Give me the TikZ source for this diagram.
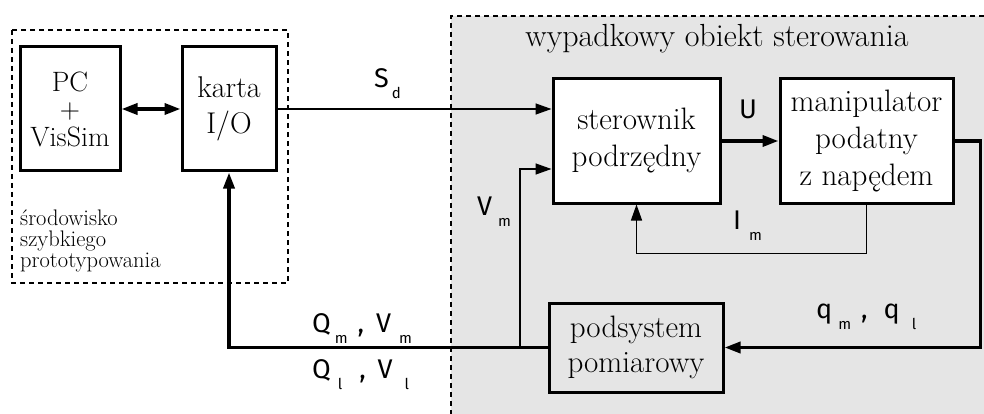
\documentclass[tikz,border=0pt]{standalone}
\usepackage{fontspec}
\newfontfamily\labfont{Fira Sans}
\usetikzlibrary{arrows.meta}
\definecolor{bggray}{HTML}{E5E5E5}
\newcommand{\sbs}[1]{\raisebox{-11pt}{\fontsize{15}{15}\selectfont #1}}
\begin{document}
\begin{tikzpicture}[x=1pt,y=-1pt,
  blk/.style={draw, line width=3pt, fill=white, align=center, inner sep=0pt,
              font=\fontsize{31}{37}\selectfont},
  heavy/.style={line width=3.5pt},
  light/.style={line width=1.4pt},
  tip/.style={-{Triangle[length=16pt,width=11pt]}},
  lab/.style={font=\labfont\fontsize{27}{27}\selectfont, inner sep=0pt, anchor=base west},
  frame/.style={dashed, dash pattern=on 5pt off 4pt, line width=1.8pt}
]
\useasboundingbox (0,0) rectangle (984,414);
% grey area
\fill[bggray] (451,16) rectangle (984,414);
\draw[frame] (984,16) -- (451,16) -- (451,414);
% left frame
\draw[frame] (12,30) rectangle (288,283);

\node[blk, minimum width=100pt, minimum height=124pt, font=\fontsize{28}{27.5}\selectfont] (pc) at (70,109) {PC\\+\\VisSim};
\node[blk, minimum width=94pt, minimum height=124pt, font=\fontsize{30}{36}\selectfont] (karta) at (229,109) {karta\\I/O};
\node[blk, minimum width=167pt, minimum height=124pt] (ster) at (636.5,141) {sterownik\\podrzędny};
\node[blk, minimum width=173pt, minimum height=124pt] (manip) at (866.5,141) {manipulator\\podatny\\z napędem};
\node[blk, fill=bggray, minimum width=174pt, minimum height=89pt, font=\fontsize{31}{35}\selectfont] (pod) at (636,347.5) {podsystem\\pomiarowy};

\node[anchor=base, font=\fontsize{32}{32}\selectfont, inner sep=0pt] (title) at (717,47) {wypadkowy obiekt sterowania};
\node[anchor=base west, align=left, inner sep=0pt, font=\fontsize{22.5}{21}\selectfont] (env) at (20,267) {środowisko\\szybkiego\\prototypowania};

% connectors
\draw[heavy, {Triangle[length=16pt,width=11pt]}-{Triangle[length=16pt,width=11pt]}] (pc.east) -- (karta.west);
\draw[light, tip] (karta.east) -- (karta.east -| ster.west);
\draw[heavy, tip] (ster.east) -- (manip.west);
\draw[heavy, tip] (manip.east) -- ++(26,0) |- (pod.east);
\draw[heavy, tip] (pod.west) -| (karta.south);
\coordinate (vm) at (520,348);
\draw[light, tip] (vm) |- ([yshift=-28pt]ster.west);
\draw[light, tip] (manip.south) -- ++(0,49) -| (ster.south);

% labels
\node[lab] (lsd) at (374,88) {S\hspace{3pt}\sbs{d}};
\node[lab] (lu) at (739,119) {U};
\node[lab] (lvm) at (477,215) {V\hspace{6pt}\sbs{m}};
\node[lab] (lim) at (733,229) {I\hspace{8pt}\sbs{m}};
\node[lab] (lqm) at (312,332) {Q\hspace{4pt}\sbs{m}\hspace{10pt},\hspace{12pt}V\hspace{8pt}\sbs{m}};
\node[lab] (lql) at (312,378) {Q\hspace{7pt}\sbs{l}\hspace{17pt},\hspace{12pt}V\hspace{12pt}\sbs{l}};
\node[lab] (lqq) at (816,318) {q\hspace{6pt}\sbs{m}\hspace{10pt},\hspace{16pt}q\hspace{12pt}\sbs{l}};
\end{tikzpicture}
\end{document}
